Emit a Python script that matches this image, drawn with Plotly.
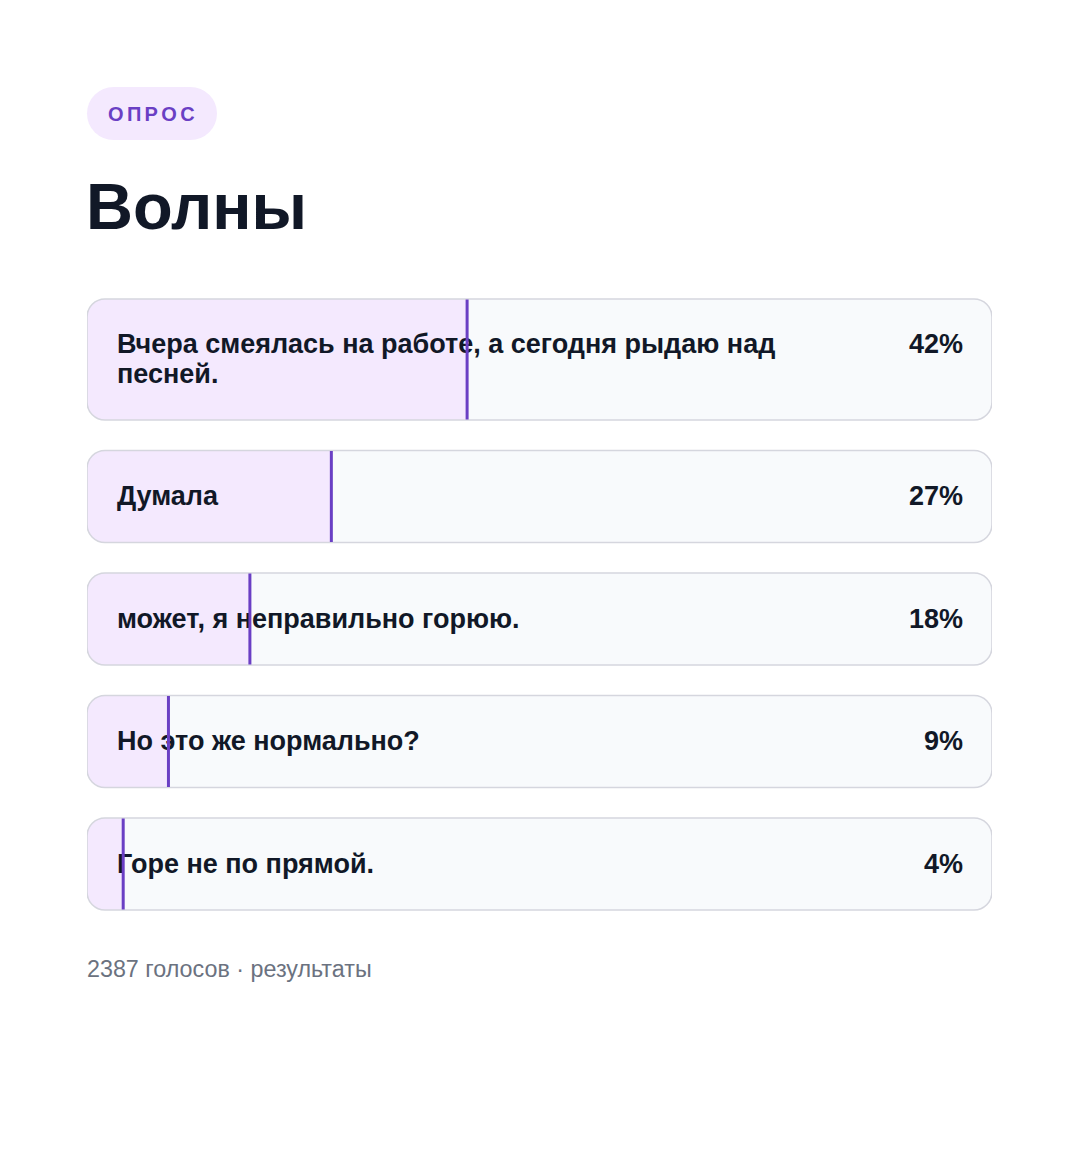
import plotly.graph_objects as go

# ---- data ----
labels = [
    "Вчера смеялась на работе, а сегодня рыдаю над<br>песней.",
    "Думала",
    "может, я неправильно горюю.",
    "Но это же нормально?",
    "Горе не по прямой.",
]
percents = [42, 27, 18, 9, 4]
badge_text = "ОПРОС"
title_text = "Волны"
footer_text = "2387 голосов · результаты"

# ---- layout constants (pixels) ----
W, H = 1080, 1170
X0, X1 = 87, 992
PX_PER_UNIT = (X1 - X0) / 100.0
TOP0 = 299
BASE_H = 92
LINE_EXTRA = 29
GAP = 30.5
RADIUS = 18
LINE_H = 30
TEXT_DY = 2

FILL_BG = "#f4e9fe"
CARD_BG = "#f8fafc"
BORDER = "#d5d6de"
ACCENT = "#6a3fc4"
TEXT = "#111827"
FONT = "Liberation Sans"

rx = RADIUS / PX_PER_UNIT
ry = RADIUS
k = 0.5523


def rounded_path(x_right, top, bot, round_right=False):
    # rounded rectangle path in data coords (x in %, y in px)
    p = [f"M {rx},{top}"]
    if round_right:
        p.append(f"L {x_right - rx},{top}")
        p.append(f"C {x_right - rx + k*rx},{top} {x_right},{top + ry - k*ry} {x_right},{top + ry}")
        p.append(f"L {x_right},{bot - ry}")
        p.append(f"C {x_right},{bot - ry + k*ry} {x_right - rx + k*rx},{bot} {x_right - rx},{bot}")
    else:
        p.append(f"L {x_right},{top}")
        p.append(f"L {x_right},{bot}")
    p.append(f"L {rx},{bot}")
    p.append(f"C {rx - k*rx},{bot} 0,{bot - ry + k*ry} 0,{bot - ry}")
    p.append(f"L 0,{top + ry}")
    p.append(f"C 0,{top + ry - k*ry} {rx - k*rx},{top} {rx},{top}")
    p.append("Z")
    return " ".join(p)


shapes = []
tops, bots = [], []
line_y, line_txt = [], []
pct_y = []
y = TOP0
for lab in labels:
    parts = lab.split("<br>")
    n = len(parts)
    h = BASE_H + LINE_EXTRA * (n - 1)
    tops.append(y)
    bots.append(y + h)
    c = y + h / 2 + TEXT_DY
    first = c - LINE_H * (n - 1) / 2
    for i, part in enumerate(parts):
        line_y.append(first + i * LINE_H)
        line_txt.append(f"<b>{part}</b>")
    pct_y.append(first)
    y = y + h + GAP

for pct, top, bot in zip(percents, tops, bots):
    shapes.append(dict(type="path", xref="x", yref="y", layer="below",
                       path=rounded_path(100, top, bot, round_right=True),
                       fillcolor=CARD_BG, line=dict(width=0)))
    shapes.append(dict(type="path", xref="x", yref="y", layer="below",
                       path=rounded_path(pct, top, bot),
                       fillcolor=FILL_BG, line=dict(width=0)))
    shapes.append(dict(type="path", xref="x", yref="y", layer="below",
                       path=rounded_path(100, top, bot, round_right=True),
                       fillcolor="rgba(0,0,0,0)", line=dict(color=BORDER, width=1.6)))
    shapes.append(dict(type="line", xref="x", yref="y", layer="above",
                       x0=pct, x1=pct, y0=top + 0.5, y1=bot - 0.5,
                       line=dict(color=ACCENT, width=3)))

label_x = (117 - X0) / PX_PER_UNIT
pct_x = (963 - X0) / PX_PER_UNIT

fig = go.Figure()
fig.add_trace(go.Scatter(
    x=[label_x] * len(line_y), y=line_y, mode="text",
    text=line_txt, textposition="middle right",
    textfont=dict(family=FONT, size=27, color=TEXT),
    hoverinfo="skip", showlegend=False, cliponaxis=False,
))
fig.add_trace(go.Scatter(
    x=[pct_x] * len(percents), y=pct_y, mode="text",
    text=[f"<b>{p}%</b>" for p in percents],
    textposition="middle left",
    textfont=dict(family=FONT, size=27, color=TEXT),
    hoverinfo="skip", showlegend=False, cliponaxis=False,
))

# badge pill
BX0, BX1, BY0, BY1 = 87, 217, 87, 140
br = (BY1 - BY0) / 2
shapes.append(dict(type="rect", xref="paper", yref="y", layer="below",
                   x0=(BX0 + br) / W, x1=(BX1 - br) / W, y0=BY0, y1=BY1,
                   fillcolor=FILL_BG, line=dict(width=0)))
shapes.append(dict(type="circle", xref="paper", yref="y", layer="below",
                   x0=BX0 / W, x1=(BX0 + 2 * br) / W, y0=BY0, y1=BY1,
                   fillcolor=FILL_BG, line=dict(width=0)))
shapes.append(dict(type="circle", xref="paper", yref="y", layer="below",
                   x0=(BX1 - 2 * br) / W, x1=BX1 / W, y0=BY0, y1=BY1,
                   fillcolor=FILL_BG, line=dict(width=0)))

annotations = [
    dict(xref="paper", yref="y", x=151 / W, y=114, xanchor="center", yanchor="middle",
         text="<b>" + "\u2006".join(badge_text) + "</b>", showarrow=False,
         font=dict(family=FONT, size=20, color=ACCENT)),
    dict(xref="paper", yref="y", x=84 / W, y=206, xanchor="left", yanchor="middle",
         text=f"<b>{title_text}</b>", showarrow=False,
         font=dict(family=FONT, size=65, color=TEXT)),
    dict(xref="paper", yref="y", x=85 / W, y=969, xanchor="left", yanchor="middle",
         text=footer_text, showarrow=False,
         font=dict(family=FONT, size=23.3, color="#6b7280")),
]

fig.update_layout(
    width=W, height=H,
    margin=dict(l=0, r=0, t=0, b=0),
    paper_bgcolor="white", plot_bgcolor="white",
    xaxis=dict(range=[0, 100], domain=[X0 / W, X1 / W], visible=False, fixedrange=True),
    yaxis=dict(range=[H, 0], domain=[0, 1], visible=False, fixedrange=True),
    shapes=shapes, annotations=annotations,
    showlegend=False,
)

fig.write_html("out.html")
